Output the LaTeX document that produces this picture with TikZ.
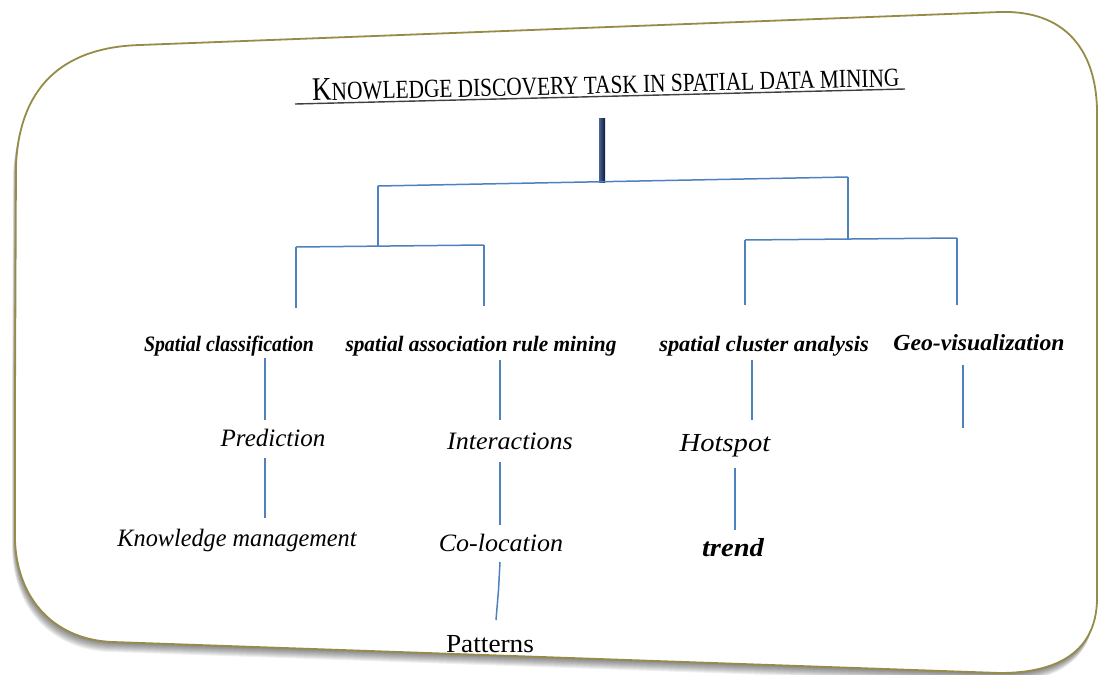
\documentclass[tikz,border=0pt]{standalone}
\usepackage{fontspec}
\setmainfont{Liberation Serif}
\definecolor{framecol}{RGB}{150,140,72}
\definecolor{linkblue}{RGB}{79,129,189}
\definecolor{barlight}{RGB}{70,100,150}
\definecolor{bardark}{RGB}{15,25,50}
\begin{document}
\begin{tikzpicture}[x=1pt,y=-1pt,
  conn/.style={draw=linkblue, line width=1.5pt},
  lab/.style={font=\fontsize{22}{24}\selectfont\bfseries\itshape, inner sep=0pt, anchor=base},
  sub/.style={font=\fontsize{25}{28}\selectfont\itshape, inner sep=0pt, anchor=base},
  framestyle/.style={draw=framecol, line width=1.8pt, fill=white}]
\useasboundingbox (0,0) rectangle (1101,675);
\def\framepath{(15,400) -- (16,165) .. controls (20,80) and (70,47) .. (140,45) -- (1000,12) .. controls (1065,10) and (1096,50) .. (1097,110) -- (1097,600) .. controls (1096,650) and (1060,673) .. (1000,673) -- (113,642) .. controls (55,640) and (17,600) .. (15,540) -- cycle}
% shadow
\foreach \s in {1,...,10}{
  \begin{scope}[yshift=-\s*1pt, xshift=-\s*0.3pt]
    \fill[black, opacity=0.06] \framepath;
  \end{scope}
}
\path[framestyle] \framepath;
% title
\node[inner sep=0pt, rotate=1.4, xscale=0.82, anchor=base] (title) at (606,93.5)
  {\fontsize{26}{28}\selectfont{\fontsize{33}{34}\selectfont K}NOWLEDGE DISCOVERY TASK IN SPATIAL DATA MINING};
\coordinate (ulA) at (295,104);
\coordinate (ulB) at (905,89);
\draw[black!75, line width=1.4pt] (ulA) -- (ulB);
% thick bar
\node[minimum width=6pt, minimum height=64pt, inner sep=0pt, left color=barlight, right color=bardark, draw=none] (bar) at (602,150) {};
% category labels
\node[lab, xscale=0.9] (sc) at (229,351) {Spatial classification};
\node[lab, xscale=0.97] (sa) at (481,351) {spatial association rule mining};
\node[lab, xscale=1.02] (scl) at (764,351) {spatial cluster analysis};
\node[lab, font=\fontsize{23}{26}\selectfont\bfseries\itshape, xscale=1.03] (geo) at (979,350) {Geo-visualization};
% sub labels
\node[sub] (pred) at (273,446) {Prediction};
\node[sub, xscale=0.97] (km) at (237,546) {Knowledge management};
\node[sub, xscale=1.04] (inter) at (510,449) {Interactions};
\node[sub, xscale=1.04] (coloc) at (501,551) {Co-location};
\node[sub, font=\fontsize{26}{28}\selectfont, xscale=1.05] (pat) at (490,652) {Patterns};
\node[sub, font=\fontsize{26}{28}\selectfont\itshape, xscale=1.1] (hot) at (725,451) {Hotspot};
\node[sub, font=\fontsize{26}{28}\selectfont\bfseries\itshape, xscale=1.1] (trend) at (733,556) {trend};
% tree coordinates
\coordinate (tl) at (378,186);
\coordinate (tr) at (848,177);
\coordinate (l2) at (378,245.5);
\coordinate (r2) at (848,239);
\coordinate (la) at (296,247);
\coordinate (lb) at (484,245);
\coordinate (ra) at (745,240);
\coordinate (rb) at (957,238);
\coordinate (laE) at (296,308);
\coordinate (lbE) at (484,306);
\coordinate (raE) at (745,305);
\coordinate (rbE) at (957,305);
\draw[conn] (tl) -- (tr);
\draw[conn] (tl) -- (l2);
\draw[conn] (tr) -- (r2);
\draw[conn] (la) -- (lb);
\draw[conn] (ra) -- (rb);
\draw[conn] (la) -- (laE);
\draw[conn] (lb) -- (lbE);
\draw[conn] (ra) -- (raE);
\draw[conn] (rb) -- (rbE);
% vertical connectors between labels
\coordinate (sc1) at (265,358); \coordinate (pr1) at (265,420);
\coordinate (pr2) at (265,458); \coordinate (km1) at (265,518);
\draw[conn] (sc1) -- (pr1);
\draw[conn] (pr2) -- (km1);
\coordinate (sa1) at (500,360); \coordinate (in1) at (500,420);
\coordinate (in2) at (500,462); \coordinate (co1) at (500,525);
\coordinate (co2) at (500,562); \coordinate (mid) at (498.5,590); \coordinate (pa1) at (496,620);
\draw[conn] (sa1) -- (in1);
\draw[conn] (in2) -- (co1);
\draw[conn] (co2) -- (mid) -- (pa1);
\coordinate (cl1) at (752,360); \coordinate (ho1) at (752,420);
\coordinate (ho2) at (735,468); \coordinate (tr1) at (735,530);
\draw[conn] (cl1) -- (ho1);
\draw[conn] (ho2) -- (tr1);
\coordinate (ge1) at (963,365); \coordinate (ge2) at (963,428);
\draw[conn] (ge1) -- (ge2);
\end{tikzpicture}
\end{document}
